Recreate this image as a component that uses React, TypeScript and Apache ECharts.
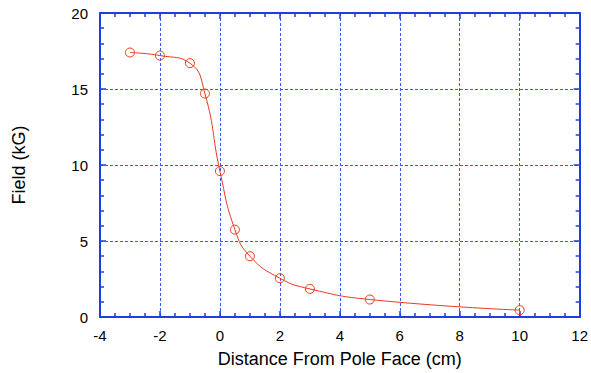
import React, { useEffect, useRef } from "react";
import * as echarts from "echarts";

const distance = [-3, -2, -1, -0.5, 0, 0.5, 1, 2, 3, 5, 10];
const field = [17.4, 17.2, 16.7, 14.7, 9.6, 5.75, 4.0, 2.55, 1.85, 1.15, 0.45];
const xRange = [-4, 12];
const yRange = [0, 20];

const BLUE = "#1d3ee0";
const GRID_BLUE = "#3659f2";
const RED = "#e8391e";
const FONT = "Liberation Sans, Arial, Helvetica, sans-serif";

export default function App() {
  const ref = useRef<HTMLDivElement>(null);
  useEffect(() => {
    if (!ref.current) return;
    const chart = echarts.init(ref.current, null, { renderer: "svg" });
    const gridLine = { show: true, lineStyle: { color: GRID_BLUE, width: 1, type: [3, 2] } };
    const axisLine = { show: true, onZero: false, lineStyle: { color: BLUE, width: 2 } };
    const tick = { show: true, inside: true, length: 6, lineStyle: { color: BLUE, width: 1.5 } };
    const minor = (n: number) => ({ show: true, splitNumber: n, length: 4, lineStyle: { color: BLUE, width: 1.5 } });
    chart.setOption({
      animation: false,
      grid: { left: 100, right: 7, top: 13, bottom: 56 },
      xAxis: [
        {
          type: "value", position: "bottom", min: xRange[0], max: xRange[1], interval: 2,
          axisLine, axisTick: tick, minorTick: minor(4), splitLine: gridLine,
          axisLabel: { color: "#000", fontSize: 15, fontFamily: FONT, margin: 11 },
          name: "Distance From Pole Face (cm)", nameLocation: "middle", nameGap: 33,
          nameTextStyle: { color: "#000", fontSize: 18, fontFamily: FONT },
        },
        {
          type: "value", position: "top", min: xRange[0], max: xRange[1], interval: 2,
          axisLine, axisTick: tick, minorTick: minor(4), splitLine: { show: false },
          axisLabel: { show: false },
        },
      ],
      yAxis: [
        {
          type: "value", position: "left", min: yRange[0], max: yRange[1], interval: 5,
          axisLine, axisTick: tick, minorTick: minor(5), splitLine: gridLine,
          axisLabel: { color: "#000", fontSize: 15, fontFamily: FONT, margin: 12 },
          name: "Field (kG)", nameLocation: "middle", nameGap: 72, nameRotate: 90,
          nameTextStyle: { color: "#000", fontSize: 18, fontFamily: FONT },
        },
        {
          type: "value", position: "right", min: yRange[0], max: yRange[1], interval: 5,
          axisLine, axisTick: tick, minorTick: minor(5), splitLine: { show: false },
          axisLabel: { show: false },
        },
      ],
      series: [
        {
          type: "line",
          data: distance.map((d, i) => [d, field[i]]),
          smooth: 0.5,
          symbol: "circle",
          symbolSize: 9,
          showAllSymbol: true,
          lineStyle: { color: RED, width: 1 },
          itemStyle: { color: "transparent", borderColor: RED, borderWidth: 1 },
          z: 5,
        },
      ],
    });
    return () => chart.dispose();
  }, []);
  return (
    <div
      ref={ref}
      style={{ position: "fixed", left: 0, top: 0, width: 591, height: 373, background: "#fff" }}
    />
  );
}
